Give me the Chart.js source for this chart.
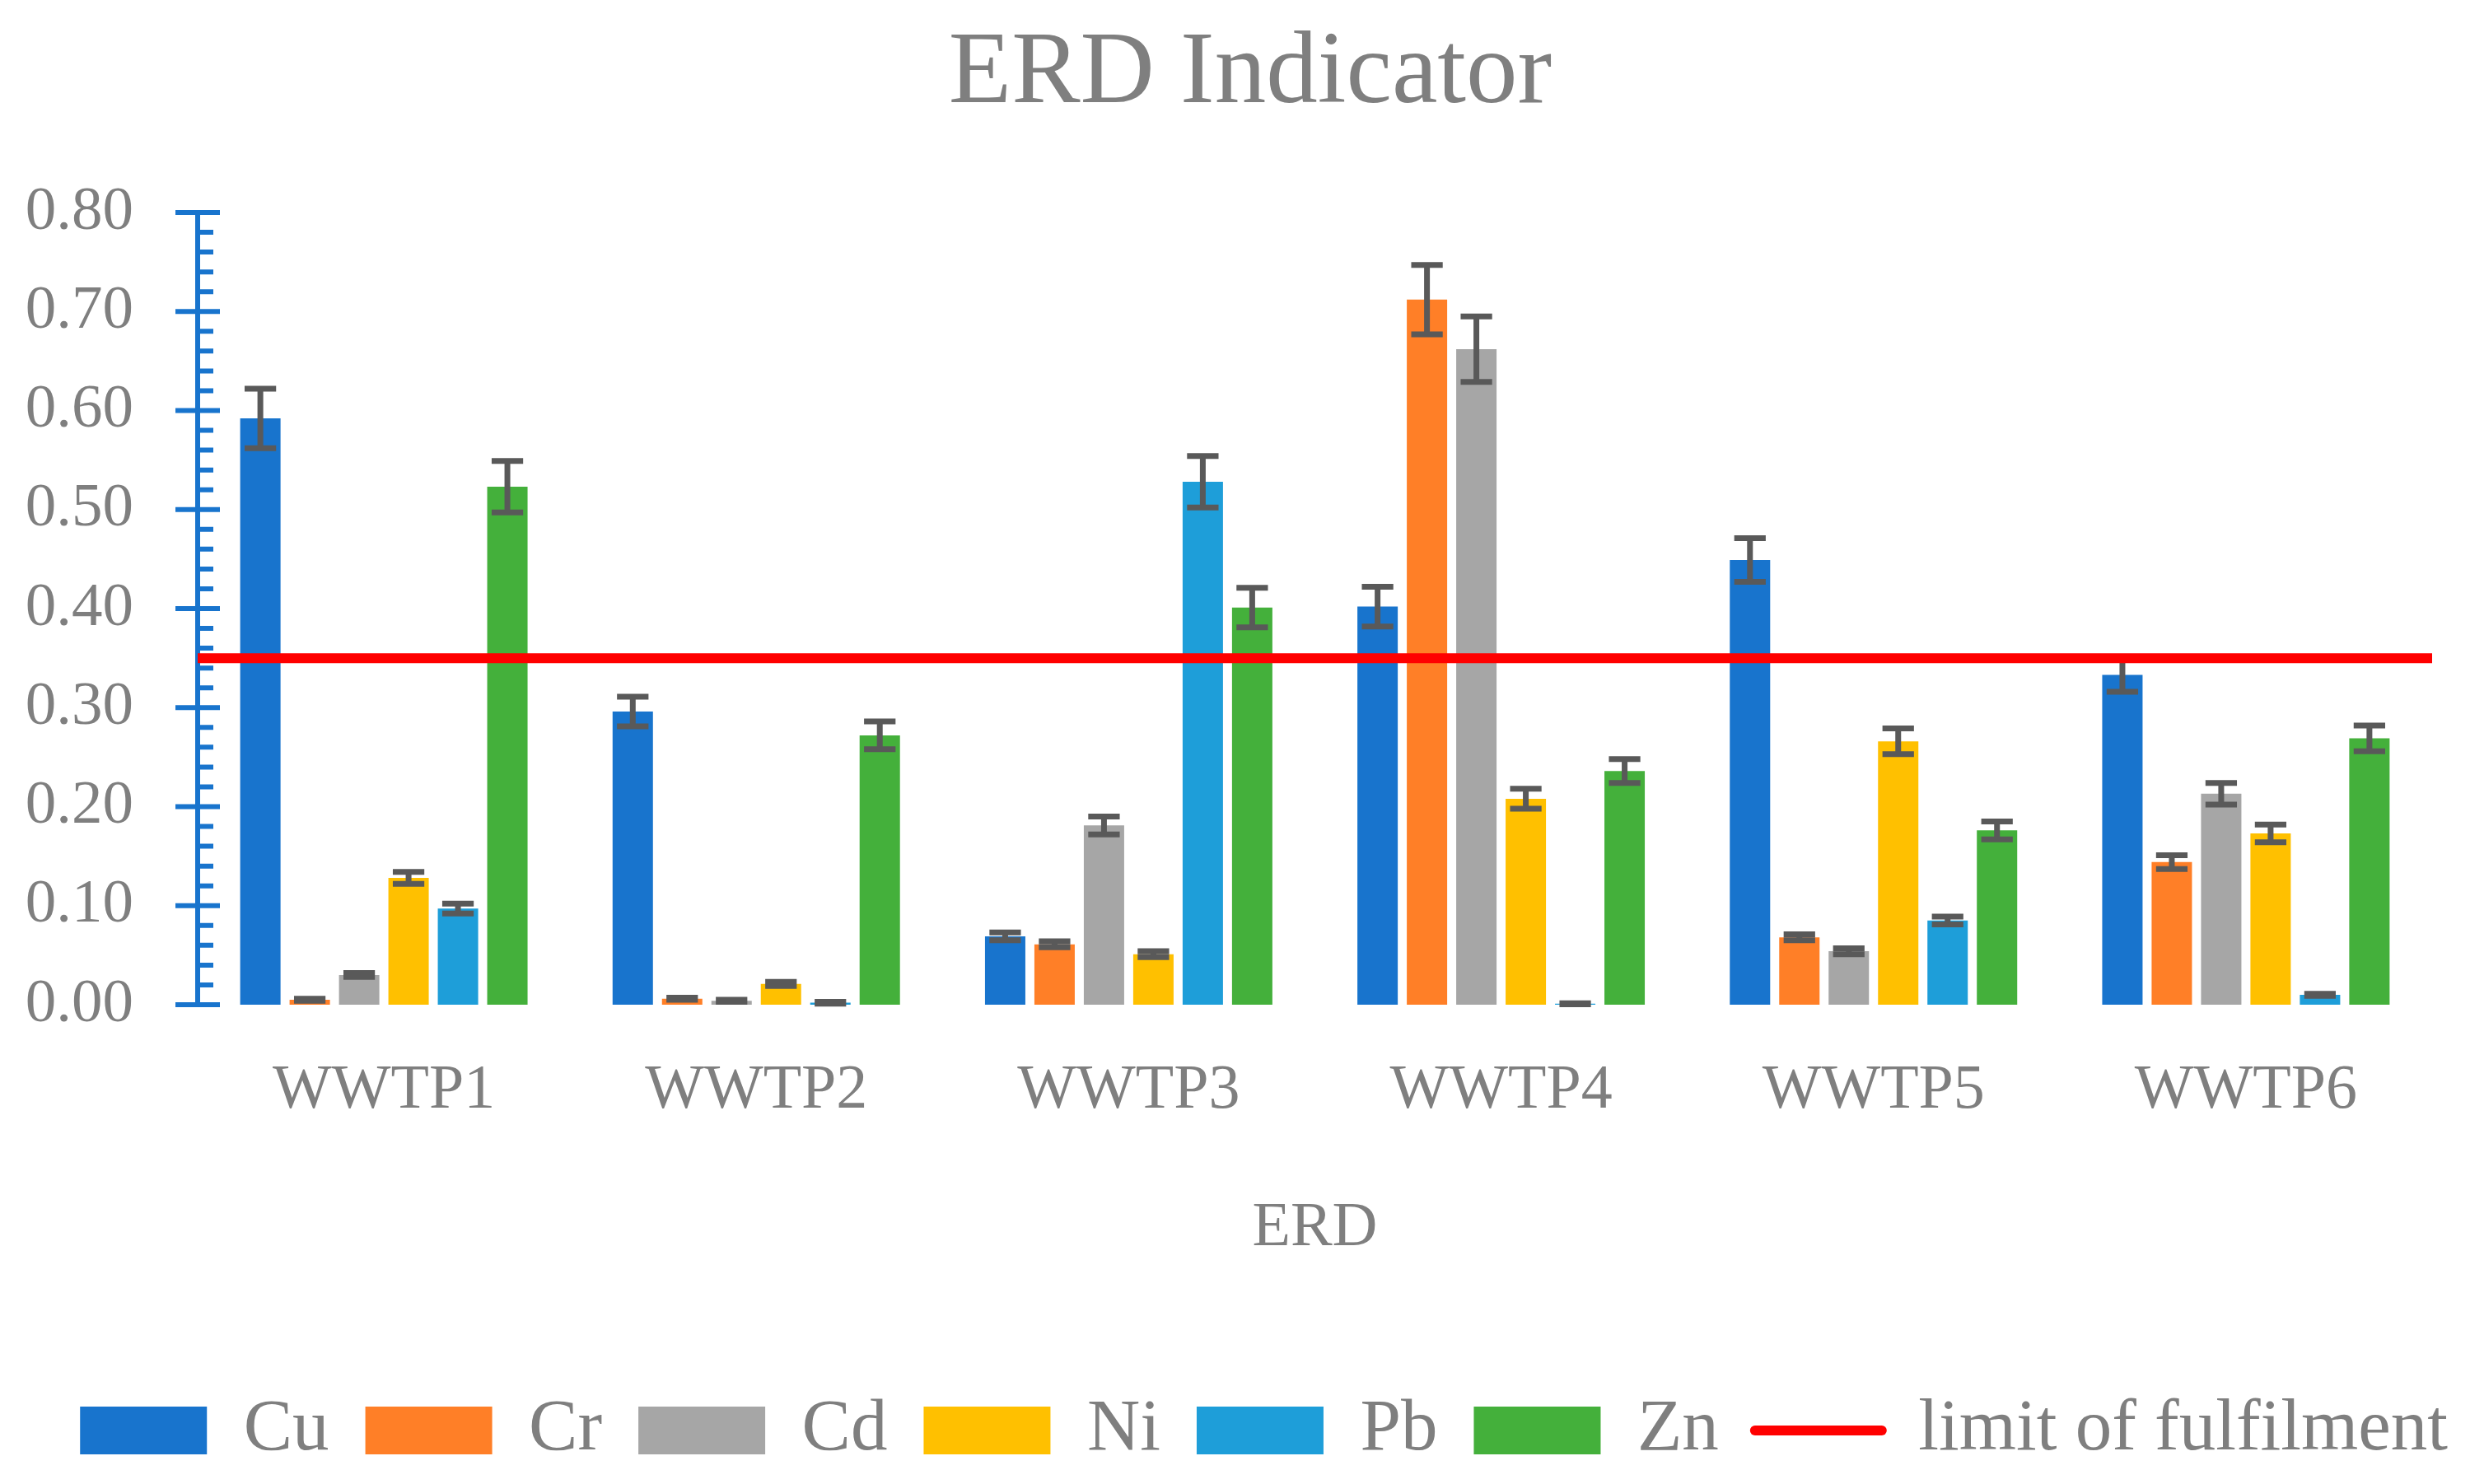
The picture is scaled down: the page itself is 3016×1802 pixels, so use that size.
<!DOCTYPE html>
<html>
<head>
<meta charset="utf-8">
<script src="https://cdn.jsdelivr.net/npm/chart.js@4"></script>
<style>
html,body{margin:0;padding:0;background:#ffffff;}
canvas{display:block;}
</style>
</head>
<body>
<canvas id="c" width="3016" height="1802" style="width:3016px;height:1802px"></canvas>
<script>
// ---- data ----
const categories = ['WWTP1', 'WWTP2', 'WWTP3', 'WWTP4', 'WWTP5', 'WWTP6'];
const seriesNames = ['Cu', 'Cr', 'Cd', 'Ni', 'Pb', 'Zn'];
const Cu = [0.592, 0.296, 0.069, 0.402, 0.449, 0.333];
const Cr = [0.005, 0.006, 0.061, 0.712, 0.068, 0.144];
const Cd = [0.030, 0.004, 0.181, 0.662, 0.054, 0.213];
const Ni = [0.128, 0.021, 0.051, 0.208, 0.266, 0.173];
const Pb = [0.097, 0.002, 0.528, 0.001, 0.085, 0.010];
const Zn = [0.523, 0.272, 0.401, 0.236, 0.176, 0.269];
const CuErr = [0.030, 0.015, 0.004, 0.020, 0.022, 0.017];
const CrErr = [0.001, 0.001, 0.003, 0.035, 0.003, 0.007];
const CdErr = [0.002, 0.001, 0.009, 0.033, 0.003, 0.011];
const NiErr = [0.006, 0.002, 0.003, 0.010, 0.013, 0.009];
const PbErr = [0.005, 0.001, 0.026, 0.0005, 0.004, 0.001];
const ZnErr = [0.026, 0.014, 0.020, 0.012, 0.009, 0.013];
const limitValue = 0.35;
const limitLabel = 'limit of fulfilment';
const yTickMin = 0, yTickMax = 0.8, yTickStep = 0.1, yMinorStep = 0.02;

// ---- styles ----
const colors = ['#1874cd', '#ff7f27', '#a6a6a6', '#ffc000', '#1e9ed9', '#44b03b'];
const textGray = '#7f7f7f';
const axisBlue = '#1874cd';
const FONT = "'Liberation Serif', 'Times New Roman', serif";

const values = [Cu, Cr, Cd, Ni, Pb, Zn];
const errors = [CuErr, CrErr, CdErr, NiErr, PbErr, ZnErr];
const xMin = -0.5, xMax = categories.length - 0.5;

// line dataset first so that it is drawn on top of the bars
const datasets = [{
  type: 'line',
  label: limitLabel,
  data: [{x: xMin, y: limitValue}, {x: xMax, y: limitValue}],
  borderColor: '#ff0000',
  backgroundColor: '#ff0000',
  borderWidth: 12,
  pointRadius: 0,
  fill: false
}];
seriesNames.forEach((name, i) => datasets.push({
  type: 'bar',
  label: name,
  data: values[i].map((v, j) => ({x: j, y: v})),
  errors: errors[i],
  backgroundColor: colors[i],
  borderWidth: 0,
  categoryPercentage: 0.796,
  barPercentage: 0.817
}));

const errorBarPlugin = {
  id: 'errorBars',
  afterDatasetDraw(chart, args) {
    const ds = chart.data.datasets[args.index];
    if (!ds.errors) return;
    const yScale = chart.scales.y;
    const ctx = chart.ctx;
    ctx.save();
    ctx.strokeStyle = '#595959';
    ctx.lineWidth = 7;
    ctx.lineCap = 'butt';
    args.meta.data.forEach((bar, i) => {
      const p = bar.getProps(['x', 'width'], true);
      const v = ds.data[i].y, e = ds.errors[i];
      const top = yScale.getPixelForValue(v + e);
      const bot = yScale.getPixelForValue(Math.max(v - e, 0));
      const half = p.width * 0.39;
      ctx.beginPath();
      ctx.moveTo(p.x, top); ctx.lineTo(p.x, bot);
      ctx.moveTo(p.x - half, top); ctx.lineTo(p.x + half, top);
      ctx.moveTo(p.x - half, bot); ctx.lineTo(p.x + half, bot);
      ctx.stroke();
    });
    ctx.restore();
  }
};

const axisTickPlugin = {
  id: 'axisTicks',
  afterDraw(chart) {
    const yScale = chart.scales.y;
    const ctx = chart.ctx;
    const x = yScale.right;
    const n = Math.round((yTickMax - yTickMin) / yMinorStep);
    const perMajor = Math.round(yTickStep / yMinorStep);
    ctx.save();
    ctx.strokeStyle = axisBlue;
    ctx.lineWidth = 6;
    ctx.beginPath();
    for (let k = 0; k <= n; k++) {
      const py = yScale.getPixelForValue(yTickMin + k * yMinorStep);
      if (k % perMajor === 0) {
        ctx.moveTo(x - 27, py); ctx.lineTo(x + 27, py);
      } else {
        ctx.moveTo(x, py); ctx.lineTo(x + 19, py);
      }
    }
    ctx.stroke();
    ctx.restore();
  }
};

new Chart(document.getElementById('c'), {
  type: 'bar',
  data: { datasets: datasets },
  plugins: [errorBarPlugin, axisTickPlugin],
  options: {
    responsive: false,
    devicePixelRatio: 1,
    animation: false,
    layout: { padding: { left: 20, right: 0, top: 0, bottom: 10.5 } },
    scales: {
      x: {
        type: 'linear',
        min: xMin, max: xMax,
        offset: false,
        grid: { display: false, drawTicks: false, offset: false },
        border: { display: false },
        afterBuildTicks: s => { s.ticks = categories.map((c, i) => ({ value: i })); },
        ticks: { color: textGray, padding: 59, autoSkip: false, maxRotation: 0,
          font: { family: FONT, size: 76 }, callback: v => categories[Math.round(v)] },
        title: { display: true, text: 'ERD', color: textGray, font: { family: FONT, size: 76 }, padding: { top: 17.2, bottom: 110.9 } }
      },
      y: {
        min: yTickMin, max: yTickMax,
        grid: { display: false, drawTicks: false },
        border: { display: true, color: axisBlue, width: 6 },
        ticks: { stepSize: yTickStep, color: textGray, padding: 78, font: { family: FONT, size: 75 },
          callback: v => Number(v).toFixed(2) },
        afterFit: s => { s.width = 220; }
      },
      yR: {
        type: 'linear', position: 'right', display: true,
        grid: { display: false, drawTicks: false },
        border: { display: false },
        ticks: { display: false },
        afterFit: s => { s.width = 63; }
      }
    },
    plugins: {
      tooltip: { enabled: false },
      title: { display: true, text: 'ERD Indicator', color: textGray,
        font: { family: FONT, size: 125, weight: 'normal' }, padding: { top: 16, bottom: 92 } },
      legend: {
        position: 'bottom', align: 'end',
        labels: {
          usePointStyle: true, pointStyleWidth: 154, boxHeight: 58, padding: 44,
          color: textGray, font: { family: FONT, size: 89 },
          generateLabels: chart => {
            const items = chart.data.datasets.map((ds, i) => ({
              text: ds.label,
              datasetIndex: i,
              fillStyle: ds.type === 'line' ? ds.borderColor : ds.backgroundColor,
              strokeStyle: ds.type === 'line' ? ds.borderColor : ds.backgroundColor,
              lineWidth: ds.type === 'line' ? 12 : 0,
              lineCap: 'round',
              pointStyle: ds.type === 'line' ? 'line' : 'rect',
              rotation: 0,
              fontColor: textGray,
              hidden: false
            }));
            return items.slice(1).concat(items.slice(0, 1));
          }
        }
      }
    }
  }
});
</script>
</body>
</html>
